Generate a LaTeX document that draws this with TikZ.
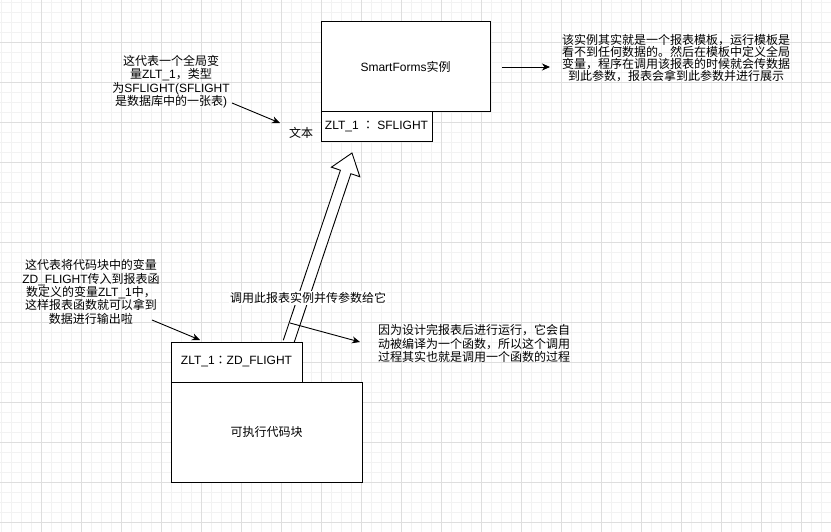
\documentclass[tikz,border=0pt]{standalone}
\usepackage{fontspec}
\setmainfont{Liberation Sans}
\newfontfamily\cjkfont{Noto Sans CJK SC}
\newfontfamily\cjkfonttc{Noto Sans CJK TC}
\newcommand\zhs[1]{{\cjkfont #1}}
\newcommand\zcolon{{\cjkfonttc ：}}
\usetikzlibrary{arrows.meta,calc}
\begin{document}
\begin{tikzpicture}[x=1pt,y=-1pt,
  box/.style={draw=black,line width=1pt,fill=white,inner sep=0pt,font=\fontsize{12}{14}\selectfont},
  note/.style={align=center,inner sep=0pt,font=\fontsize{12}{13.4}\selectfont},
  conn/.style={line width=0.9pt,-{Stealth[length=8pt,width=7pt,inset=2.5pt]}},
  minorgrid/.style={black!5,line width=0.8pt},
  majorgrid/.style={black!13,line width=0.8pt},
]
\fill[white] (0,0) rectangle (831,532);
\useasboundingbox (0,0) rectangle (831,532);
% grid
\foreach \x in {1,11,...,831} \draw[minorgrid] (\x,0) -- (\x,532);
\foreach \y in {2,12,...,532} \draw[minorgrid] (0,\y) -- (831,\y);
\foreach \x in {41,81,...,831} \draw[majorgrid] (\x,0) -- (\x,532);
\foreach \y in {42,82,...,532} \draw[majorgrid] (0,\y) -- (831,\y);

% boxes (positions)
\path node[box,minimum width=169pt,minimum height=90pt] (sf) at (405.5,67) {SmartForms\zhs{实例}};
\path node[box,minimum width=111pt,minimum height=30pt] (h1) at (376.5,127) {ZLT\_1 \zcolon{} SFLIGHT};

% big hollow arrow
\coordinate (T) at (288.5,342);
\coordinate (H) at (352,153);
\coordinate (hb) at ($(H)!20pt!(T)$);
\filldraw[fill=white,line width=0.9pt,line join=miter]
  ($(T)!5.5pt!90:(H)$) -- ($(hb)!5.5pt!90:(H)$) -- ($(hb)!15pt!90:(H)$) -- (H)
  -- ($(hb)!15pt!-90:(H)$) -- ($(hb)!5.5pt!-90:(H)$) -- ($(T)!5.5pt!-90:(H)$);

% bottom boxes
\node[box,minimum width=191pt,minimum height=100pt] (code) at (266.5,432) {\zhs{可执行代码块}};
\node[box,minimum width=131pt,minimum height=40pt] (h2) at (236.5,362) {ZLT\_1\zcolon{}ZD\_FLIGHT};

% notes
\node[note] (n1) at (171,81.5) {\zhs{这代表一个全局变}\\\zhs{量}ZLT\_1\zhs{，类型}\\\zhs{为}SFLIGHT(SFLIGHT\\\zhs{是数据库中的一张表})};
\node[note,font=\fontsize{12}{11.4}\selectfont] (n2) at (676,58) {\zhs{该实例其实就是一个报表模板，运行模板是}\\\zhs{看不到任何数据的。然后在模板中定义全局}\\\zhs{变量，程序在调用该报表的时候就会传数据}\\\zhs{到此参数，报表会拿到此参数并进行展示}};
\node[note] (n3) at (91,292) {\zhs{这代表将代码块中的变量}\\ZD\_FLIGHT\zhs{传入到报表函}\\\zhs{数定义的变量}ZLT\_1\zhs{中，}\\\zhs{这样报表函数就可以拿到}\\\zhs{数据进行输出啦}};
\node[note] (n4) at (474,343.5) {\zhs{因为设计完报表后进行运行，它会自}\\\zhs{动被编译为一个函数，所以这个调用}\\\zhs{过程其实也就是调用一个函数的过程}};
\node[note] (txt) at (301,133) {\zhs{文本}};
\node[note,fill=white,inner sep=1pt] (lbl) at (308,298) {\zhs{调用此报表实例并传参数给它}};

% thin connectors
\coordinate (a1s) at (232,103);
\coordinate (a1e) at (280,123);
\draw[conn] (a1s) -- (a1e);
\coordinate (a2s) at (502,67);
\coordinate (a2e) at (550,67);
\draw[conn] (a2s) -- (a2e);
\coordinate (a3s) at (152,320);
\coordinate (a3e) at (200,340);
\draw[conn] (a3s) -- (a3e);
\coordinate (a4s) at (290,323);
\coordinate (a4e) at (360,342);
\draw[conn] (a4s) -- (a4e);
\end{tikzpicture}
\end{document}
